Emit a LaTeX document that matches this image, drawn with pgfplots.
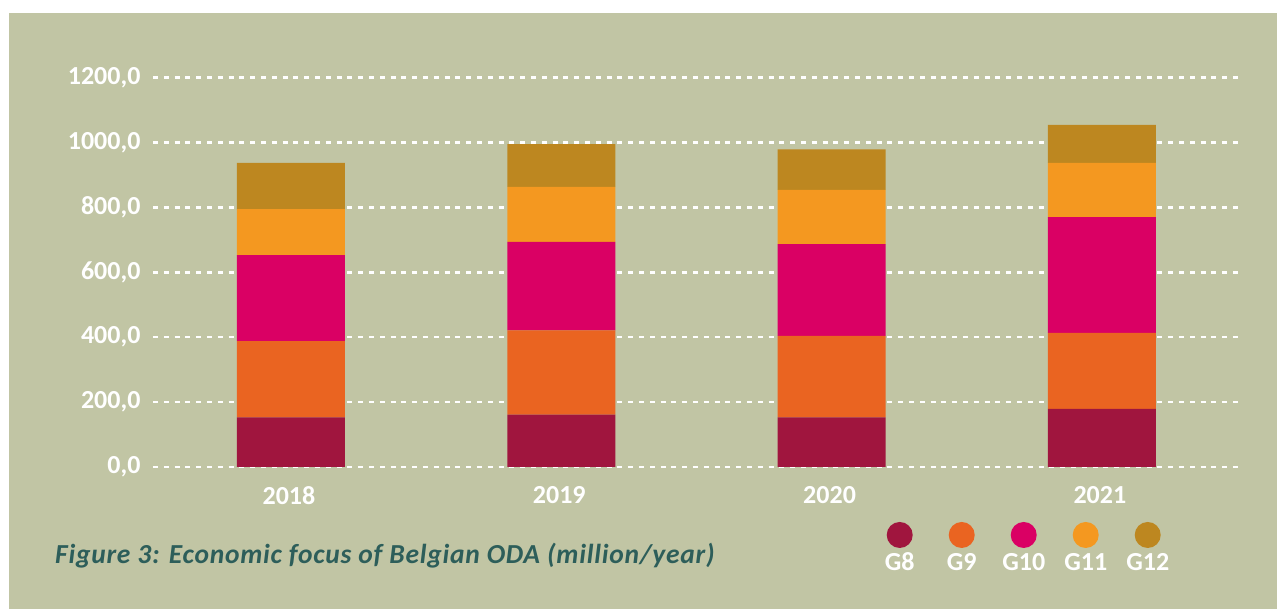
\documentclass[border=0pt]{standalone}
\usepackage{fontspec}
\setmainfont{Carlito}
\usepackage{pgfplots}
\pgfplotsset{compat=1.18}
\definecolor{bg}{HTML}{C1C5A4}
\definecolor{gA}{HTML}{A0153E}
\definecolor{gB}{HTML}{EA6421}
\definecolor{gC}{HTML}{DA0064}
\definecolor{gD}{HTML}{F49820}
\definecolor{gE}{HTML}{BD8720}
\definecolor{titlec}{HTML}{2D5E5A}
\newcommand{\lblfont}{\fontsize{26}{31}\selectfont\bfseries}
\newcommand{\legimg}[2]{\path[fill=none,draw=none] (-30.5pt,-42pt) rectangle (30.5pt,13pt);
  \fill[#1,draw=none] (0,0) circle (13pt);
  \node[inner sep=0pt,fill=none,draw=none,text=white,font=\lblfont] at (0,-27pt) {#2};}
\begin{document}
\begin{tikzpicture}
\fill[white] (0,0) rectangle (1277pt,609pt);
\fill[bg] (9pt,0) rectangle (1277pt,596pt);
\begin{axis}[
  at={(153pt,142pt)}, anchor=south west, scale only axis,
  width=1087pt, height=389.4pt,
  xmin=-0.5105, xmax=3.511, ymin=0, ymax=1200,
  ybar stacked, bar width=108pt,
  xtick={0,1,2,3}, xticklabels={2018,2019,2020,2021},
  ytick={0,200,400,600,800,1000,1200},
  axis line style={draw=none}, major tick length=0pt,
  ymajorgrids, grid style={white, line width=2.5pt, dash pattern=on 5pt off 5.8pt},
  tick label style={font=\lblfont, text=white},
  /pgf/number format/assume math mode=true,
  yticklabel={\pgfmathprintnumber[fixed,fixed zerofill,precision=1,use comma,1000 sep={}]{\tick}},
  yticklabel style={xshift=-9pt},
  xticklabel style={yshift=-16pt, xshift=-2pt},
  legend columns=5,
  legend style={at={(0.6589,-0.1412)}, anchor=north west, draw=none, fill=none,
    inner sep=0pt, outer sep=0pt, column sep=0pt,
    nodes={inner sep=0pt, outer sep=0pt, text depth=0pt},
    /tikz/every even column/.style={column sep=0pt},
    /tikz/every odd column/.style={column sep=0pt}},
]
\addplot[fill=gA, draw=none, legend image code/.code={\legimg{gA}{G8}}] coordinates {(0,153) (1,161) (2,153) (3,179)};
\addlegendentry{\hbox{}}
\addplot[fill=gB, draw=none, legend image code/.code={\legimg{gB}{G9}}] coordinates {(0,235) (1,260) (2,251) (3,234)};
\addlegendentry{\hbox{}}
\addplot[fill=gC, draw=none, legend image code/.code={\legimg{gC}{G10}}] coordinates {(0,265) (1,273) (2,283) (3,357)};
\addlegendentry{\hbox{}}
\addplot[fill=gD, draw=none, legend image code/.code={\legimg{gD}{G11}}] coordinates {(0,142) (1,169) (2,167) (3,167)};
\addlegendentry{\hbox{}}
\addplot[fill=gE, draw=none, legend image code/.code={\legimg{gE}{G12}}] coordinates {(0,142) (1,132) (2,125) (3,117)};
\addlegendentry{\hbox{}}
\end{axis}
\node[anchor=base west, inner sep=0pt, text=titlec, font=\fontsize{27.5}{32}\selectfont\bfseries\itshape\addfontfeatures{LetterSpace=2.7}] at (55pt,45pt) {Figure 3: Economic focus of Belgian ODA (million/year)};
\pgfresetboundingbox
\useasboundingbox (0,0) rectangle (1277pt,609pt);
\end{tikzpicture}
\end{document}
